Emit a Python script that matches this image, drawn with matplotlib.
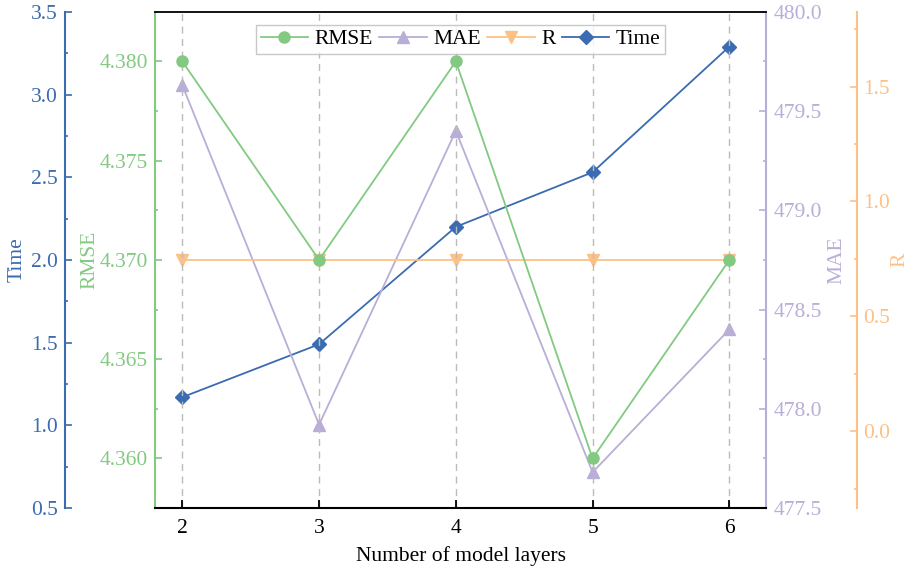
import matplotlib
matplotlib.use("Agg")
from matplotlib import pyplot as plt
from matplotlib.ticker import MultipleLocator, AutoMinorLocator, FormatStrFormatter

plt.rcParams['font.family'] = ['Liberation Serif', 'DejaVu Serif']

# data
layers = [2, 3, 4, 5, 6]
rmse = [4.380, 4.370, 4.380, 4.360, 4.370]
mae = [479.63, 477.92, 479.40, 477.68, 478.40]
r = [0.745, 0.745, 0.745, 0.745, 0.745]
time_s = [1.17, 1.49, 2.20, 2.53, 3.29]

c_rmse = '#82CA81'
c_mae = '#B9AED7'
c_r = '#FDC186'
c_time = '#3B6BB0'
fs = 15.5

fig = plt.figure(figsize=(9.09, 5.73), dpi=100)
ax = fig.add_axes([0.1705, 0.1134, 0.6725, 0.866])
ax_t = ax.twinx()
ax_m = ax.twinx()
ax_r = ax.twinx()

# Time axis moved to the far left, R axis further right
ax_t.yaxis.set_label_position('left')
ax_t.yaxis.set_ticks_position('left')
ax_t.spines['left'].set_position(('outward', 65))
ax_t.spines['left'].set_visible(True)
for s in ['right', 'top', 'bottom']:
    ax_t.spines[s].set_visible(False)
for s in ['left', 'top', 'bottom']:
    ax_m.spines[s].set_visible(False)
    ax_r.spines[s].set_visible(False)
ax_r.spines['right'].set_position(('outward', 65))
ax.spines['right'].set_visible(False)

ax.set_zorder(3)
ax.patch.set_visible(False)

l1, = ax.plot(layers, rmse, color=c_rmse, marker='o', ms=8, lw=1.3, label='RMSE', zorder=5)
l2, = ax_m.plot(layers, mae, color=c_mae, marker='^', ms=8, lw=1.3, label='MAE')
l3, = ax_r.plot(layers, r, color=c_r, marker='v', ms=8, lw=1.3, label='R')
l4, = ax_t.plot(layers, time_s, color=c_time, marker='D', ms=7, lw=1.3, label='Time')

ax.set_xlim(1.8, 6.27)
ax.set_xticks(layers)
ax.set_ylim(4.3575, 4.3825)
ax.yaxis.set_major_locator(MultipleLocator(0.005))
ax.yaxis.set_minor_locator(AutoMinorLocator(2))
ax.yaxis.set_major_formatter(FormatStrFormatter('%.3f'))
ax_t.set_ylim(0.5, 3.5)
ax_t.yaxis.set_major_locator(MultipleLocator(0.5))
ax_t.yaxis.set_minor_locator(AutoMinorLocator(2))
ax_t.yaxis.set_major_formatter(FormatStrFormatter('%.1f'))
ax_m.set_ylim(477.5, 480.0)
ax_m.yaxis.set_major_locator(MultipleLocator(0.5))
ax_m.yaxis.set_minor_locator(AutoMinorLocator(2))
ax_m.yaxis.set_major_formatter(FormatStrFormatter('%.1f'))
ax_r.set_ylim(-0.335, 1.826)
ax_r.yaxis.set_major_locator(MultipleLocator(0.5))
ax_r.yaxis.set_minor_locator(AutoMinorLocator(2))
ax_r.yaxis.set_major_formatter(FormatStrFormatter('%.1f'))

ax.grid(axis='x', color='#BBBBBB', ls=(0, (5, 4)), lw=1)

ax.tick_params(axis='x', direction='in', length=6, width=1.3, labelsize=fs, pad=8)
for a, c, side in [(ax, c_rmse, 'left'), (ax_t, c_time, 'left'),
                   (ax_m, c_mae, 'right'), (ax_r, c_r, 'right')]:
    a.spines[side].set_color(c)
    a.spines[side].set_linewidth(1.5)
    a.tick_params(axis='y', which='major', direction='in', length=5, width=1.2,
                  colors=c, labelsize=fs, pad=5)
    a.tick_params(axis='y', which='minor', direction='in', length=2.5, width=1.2, colors=c)
ax.spines['bottom'].set_linewidth(1.5)
ax.spines['top'].set_linewidth(1.3)

ax.set_xlabel('Number of model layers', fontsize=fs, labelpad=6)
ax.set_ylabel('RMSE', fontsize=fs, color=c_rmse, labelpad=0)
ax_t.set_ylabel('Time', fontsize=fs, color=c_time, labelpad=3)
ax_m.set_ylabel('MAE', fontsize=fs, color=c_mae, labelpad=4)
ax_r.set_ylabel('R', fontsize=fs, color=c_r, labelpad=0)

leg = ax.legend(handles=[l1, l2, l3, l4], loc='upper center', ncol=4, fontsize=fs,
                frameon=True, fancybox=False, edgecolor='#BBBBBB',
                handlelength=2.2, handletextpad=0.3, columnspacing=0.3,
                borderpad=0.2, bbox_to_anchor=(0.5, 0.995))
leg.get_frame().set_linewidth(1.0)

fig.savefig('out.png', dpi=100)
